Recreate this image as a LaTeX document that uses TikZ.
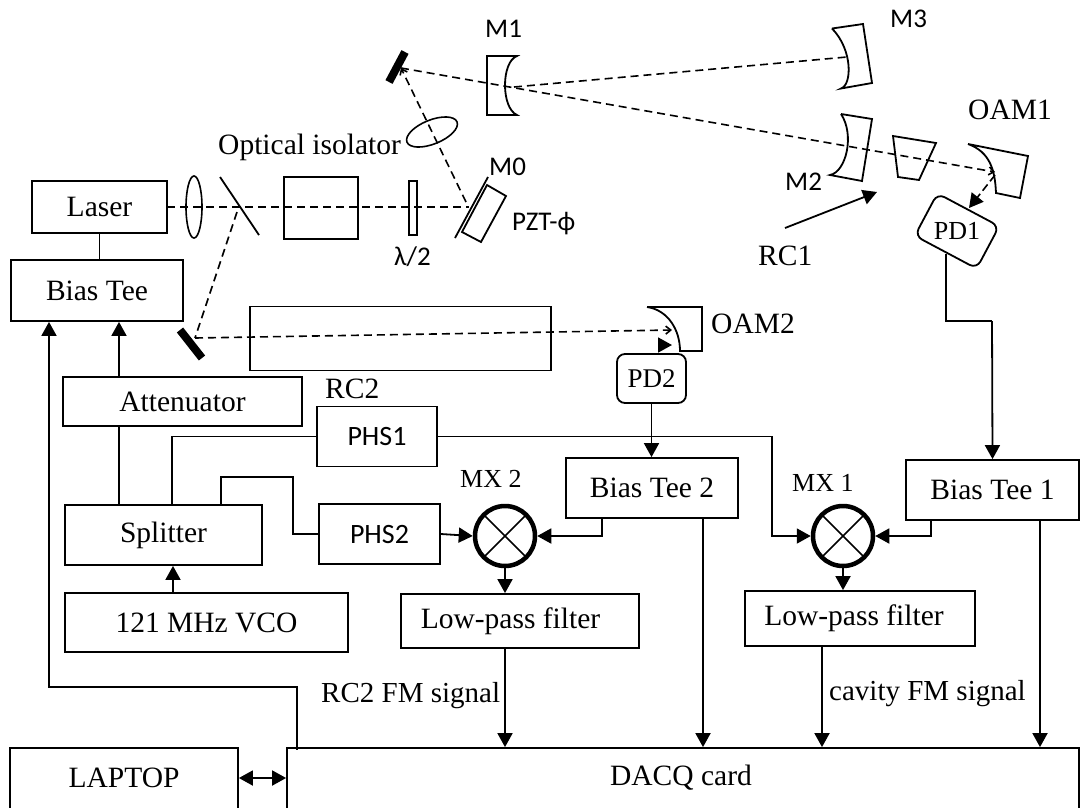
\documentclass[tikz,border=0pt]{standalone}
\usepackage{fontspec}
\setmainfont{Liberation Serif}
\newfontfamily\labelfont{Carlito}
\usetikzlibrary{arrows.meta,shapes.geometric}
\tikzset{
  every node/.style={font=\fontsize{29.5}{34}\selectfont, inner sep=0pt},
  line/.style={line width=1.8pt},
  box/.style={draw, rectangle, line width=1.8pt, align=center},
  pdbox/.style={draw, rectangle, rounded corners=8pt, line width=1.8pt, font=\fontsize{27}{30}\selectfont},
  mixer/.style={draw, circle, line width=4.5pt, minimum size=60pt,
    path picture={\draw[line width=1.5pt] (path picture bounding box.north west) -- (path picture bounding box.south east)
      (path picture bounding box.north east) -- (path picture bounding box.south west);}},
  sig/.style={line width=1.8pt, -{Triangle[length=14pt,width=15pt]}},
  beam/.style={line width=1.6pt, dash pattern=on 8pt off 5pt},
  beamend/.style={line width=1.6pt, dash pattern=on 8pt off 5pt, -{Straight Barb[length=5pt,width=8pt]}},
  blackmirror/.style={line width=8pt},
  mlabel/.style={font=\fontsize{27}{30}\labelfont, anchor=base west},
  tlabel/.style={anchor=base west},
}
\begin{document}
\begin{tikzpicture}[x=1pt,y=-1pt]
\useasboundingbox (0,0) rectangle (1083,807);
% electronics
\node[box, minimum width=135pt, minimum height=52pt] (laser) at (99.5,207) {\raisebox{-2pt}{Laser}};
\node[box, minimum width=172pt, minimum height=61pt] (biastee) at (97,290.5) {Bias Tee};
\node[box, minimum width=239pt, minimum height=49pt] (attn) at (182.5,401.5) {Attenuator};
\node[box, minimum width=120pt, minimum height=60pt, font=\fontsize{28}{30}\labelfont] (phsa) at (377,436.5) {PHS1};
\node[box, minimum width=121pt, minimum height=60pt, font=\fontsize{28}{30}\labelfont] (phsb) at (379.5,534) {PHS2};
\node[box, minimum width=197pt, minimum height=60pt] (splitter) at (163.5,535) {Splitter};
\node[box, minimum width=283pt, minimum height=59pt] (vco) at (206.5,622.5) {121 MHz VCO};
\node[box, minimum width=172pt, minimum height=60pt] (teeb) at (652,488) {Bias Tee 2};
\node[box, minimum width=173pt, minimum height=60pt] (teea) at (992.5,490) {Bias Tee 1};
\node[box, minimum width=238pt, minimum height=54pt] (lpfb) at (520,621) {Low-pass filter\hspace{19pt}};
\node[box, minimum width=230pt, minimum height=55pt] (lpfa) at (860,618.5) {Low-pass filter\hspace{12pt}};
\node[box, minimum width=228pt, minimum height=70pt] (laptop) at (124,783) {};
\node[box, minimum width=792pt, minimum height=70pt] (dacq) at (683,783) {};
\node (laptoptext) at (124,778) {LAPTOP};
\node (dacqtext) at (681,778) {DACQ card};
\node[mixer] (mxb) at (505,536) {};
\node[mixer] (mxa) at (843,536) {};
\node[pdbox, minimum width=69pt, minimum height=49pt] (pdb) at (651.5,378.5) {PD2};
\node[pdbox, minimum width=70pt, minimum height=48pt, rotate=-28] (pda) at (957,231) {};
\node[font=\fontsize{26}{30}\selectfont] (pdatext) at (957,231) {PD1};
% free ends of the connectors
\coordinate (attnx) at (119,0);
\coordinate (lefty) at (49,0);
\coordinate (phsax) at (172,0);
\coordinate (phsbx) at (221,0);
\coordinate (vcox) at (173,0);
\coordinate (teebx) at (602,0);
\coordinate (teebout) at (703,0);
\coordinate (teeax) at (931,0);
\coordinate (teeaout) at (1040,0);
\coordinate (lpfaout) at (822,0);
\coordinate (pdaout) at (946,254);
\coordinate (pdaturn) at (946,321);
\coordinate (teeain) at (992,321);
\draw[line] (laser) -- (laser |- biastee.north);
\draw[sig] (attn.north -| attnx) -- (biastee.south -| attnx);
\draw[line] (attn.south -| attnx) -- (splitter.north -| attnx);
\draw[sig] (vco.north -| vcox) -- (splitter.south -| vcox);
\draw[line] (phsa.west) -| (splitter.north -| phsax);
\draw[line] (splitter.north -| phsbx) |- (293,477) |- (phsb.west);
\draw[sig] (phsb.east) -- (mxb.west);
\draw[sig] (phsa.east) -| (772,536) -- (mxa.west);
\draw[sig] (pdb.south) -- (teeb.north -| pdb);
\draw[sig] (teeb.south -| teebx) |- (mxb.east);
\draw[sig] (teea.south -| teeax) |- (mxa.east);
\draw[line] (pdaout) -- (pdaturn) -- (teeain);
\draw[sig] (teeain) -- (teea.north);
\draw[sig] (mxb.south) -- (lpfb.north -| mxb);
\draw[sig] (mxa.south) -- (lpfa.north -| mxa);
\draw[sig] (lpfb.south -| mxb) -- (dacq.north -| mxb);
\draw[sig] (lpfa.south -| lpfaout) -- (dacq.north -| lpfaout);
\draw[sig] (teeb.south -| teebout) -- (dacq.north -| teebout);
\draw[sig] (teea.south -| teeaout) -- (dacq.north -| teeaout);
\draw[line, {Triangle[length=14pt,width=15pt]}-] (biastee.south -| lefty) -- (lefty |- 0,687) -| (297,750);
\draw[line, {Triangle[length=14pt,width=15pt]}-{Triangle[length=14pt,width=15pt]}] (laptop.east |- 0,778) -- (dacq.west |- 0,778);
% optics
\node[draw, ellipse, line width=1.6pt, minimum width=16pt, minimum height=62pt] (lensa) at (194,207) {};
\node[draw, ellipse, line width=1.6pt, minimum width=54pt, minimum height=24pt, rotate=22] (lensb) at (432,132) {};
\node[box, minimum width=74pt, minimum height=62pt] (isolator) at (321,208) {};
\node[box, minimum width=8pt, minimum height=54pt] (plate) at (413,208) {};
\node[box, minimum width=301pt, minimum height=64pt] (rcb) at (400.5,338.5) {};
\coordinate (laserout) at (167,207);
\coordinate (mzero) at (469,207);
\coordinate (mzerob) at (466,202);
\coordinate (splitb) at (237,212);
\coordinate (mirrora) at (401,68);
\coordinate (mirrorb) at (195,338);
\coordinate (oama) at (995,172);
\coordinate (oamb) at (672,330);
\coordinate (mone) at (514,87);
\coordinate (mthree) at (847,57);
\draw[line] (220,177) -- (259,235);
\draw[line] (488,177) -- (455,238);
\draw[line] (487,185) -- (506,196) -- (481,242) -- (462,232) -- cycle;
\draw[blackmirror] (405,52) -- (389,82);
\draw[blackmirror] (180,330) -- (202,358);
\draw[beam] (laserout) -- (mzero);
\draw[beamend] (mzerob) -- (mirrora);
\draw[beam] (splitb) -- (mirrorb);
\draw[beamend] (mirrorb) -- (oamb);
\draw[beamend] (mirrora) -- (oama);
\draw[beam] (mone) -- (mthree);
\draw[line width=1.6pt, dash pattern=on 8pt off 4pt, -{Triangle[length=14pt,width=15pt]}] (995,175) -- (969,208);
\draw[sig] (659,345) -- (672,345);
\draw[sig] (785,228) -- (877,192);
% mirrors
\draw[line] (487,56) -- (517,56) .. controls (501,62) and (501,108) .. (517,115) -- (487,115) -- cycle;
\draw[line] (832,28.5) -- (863,24) -- (872,83) -- (841,88.5) .. controls (852,85) and (853,50) .. (832,28.5);
\draw[line] (841,114) -- (872,119) -- (862,181) -- (830,175) .. controls (846,172) and (855,135) .. (841,114);
\draw[line] (893,136) -- (936,143) -- (919,180) -- (898,177) -- cycle;
\draw[line] (968,144) -- (1028,156) -- (1020,198) -- (996,193) .. controls (995,170) and (990,152) .. (968,144);
\draw[line] (647,307) -- (702,307) -- (702,351) -- (680,351) .. controls (680,330) and (668,310) .. (647,307);
% labels
\node[mlabel] (monel) at (485,37) {M1};
\node[mlabel] (mthreel) at (890,27) {M3};
\node[mlabel] (mtwol) at (785,190) {M2};
\node[mlabel] (mzerol) at (489,175) {M0};
\node[mlabel] (pztl) at (512,230) {PZT-ϕ};
\node[mlabel] (halfl) at (394,265) {λ/2};
\node[tlabel] (isol) at (218,154) {Optical isolator};
\node[tlabel] (rcal) at (758,265) {RC1};
\node[tlabel] (rcbl) at (325,398) {RC2};
\node[tlabel] (oamal) at (968,119) {OAM1};
\node[tlabel] (oambl) at (711,333) {OAM2};
\node[tlabel, font=\fontsize{26}{30}\selectfont] (mxbl) at (460,487) {MX 2};
\node[tlabel, font=\fontsize{26}{30}\selectfont] (mxal) at (792,491) {MX 1};
\node[tlabel, font=\fontsize{29}{32}\selectfont] (fmb) at (321,702) {RC2 FM signal};
\node[tlabel, font=\fontsize{29}{32}\selectfont] (fma) at (829,700) {cavity FM signal};
\end{tikzpicture}
\end{document}
